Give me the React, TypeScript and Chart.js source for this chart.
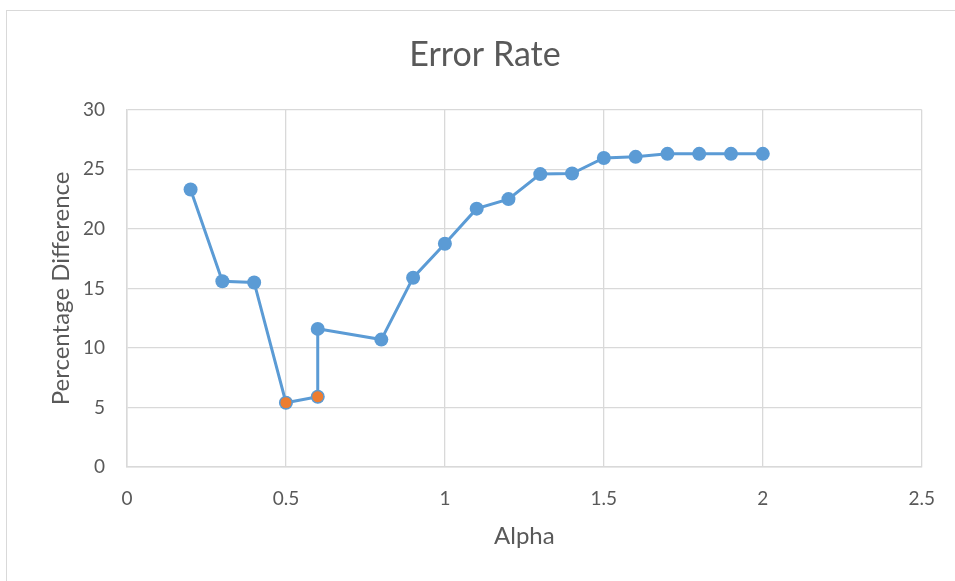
import React, { useEffect, useRef } from "react";
import { Chart, registerables } from "chart.js";

Chart.register(...registerables);

const alphaValues = [0.2, 0.3, 0.4, 0.5, 0.6, 0.6, 0.8, 0.9, 1.0, 1.1, 1.2, 1.3, 1.4, 1.5, 1.6, 1.7, 1.8, 1.9, 2.0];
const errorValues = [23.3, 15.6, 15.5, 5.4, 5.9, 11.6, 10.7, 15.9, 18.75, 21.7, 22.5, 24.6, 24.65, 25.95, 26.05, 26.3, 26.3, 26.3, 26.3];
const highlightAlpha = [0.5, 0.6];
const highlightError = [5.4, 5.9];

const FONT = "Lato, 'Open Sans', sans-serif";
const TEXT = "#595959";
const GRID = "#D9D9D9";

export default function App() {
  const ref = useRef<HTMLCanvasElement | null>(null);

  useEffect(() => {
    if (!ref.current) return;
    const chart = new Chart(ref.current, {
      type: "scatter",
      data: {
        datasets: [
          {
            label: "Highlight",
            data: highlightAlpha.map((x, i) => ({ x, y: highlightError[i] })),
            showLine: false,
            pointRadius: 6,
            pointBackgroundColor: "#ED7D31",
            pointBorderColor: "#5B9BD5",
            pointBorderWidth: 1,
            order: 0,
          },
          {
            label: "Error Rate",
            data: alphaValues.map((x, i) => ({ x, y: errorValues[i] })),
            showLine: true,
            borderColor: "#5B9BD5",
            borderWidth: 3,
            pointRadius: 7,
            pointBackgroundColor: "#5B9BD5",
            pointBorderColor: "#5B9BD5",
            pointBorderWidth: 0,
            order: 1,
          },
        ],
      },
      options: {
        animation: false,
        responsive: false,
        maintainAspectRatio: false,
        layout: { padding: { left: 47, right: 32, top: 0, bottom: 30 } },
        plugins: {
          legend: { display: false },
          tooltip: { enabled: false },
          title: {
            display: true,
            text: "Error Rate",
            color: TEXT,
            font: { family: FONT, size: 34, weight: "normal" },
            padding: { top: 35, bottom: 34 },
          },
        },
        scales: {
          x: {
            type: "linear",
            min: 0,
            max: 2.5,
            afterFit: (s: any) => {
              s.height = 84;
            },
            ticks: {
              stepSize: 0.5,
              color: TEXT,
              font: { family: FONT, size: 19 },
              padding: 20,
              callback: (v: any) => String(Number(v)),
            },
            grid: { color: GRID, lineWidth: 1.3, drawTicks: false },
            border: { color: GRID, width: 1.5 },
            title: {
              display: true,
              text: "Alpha",
              color: TEXT,
              font: { family: FONT, size: 24 },
              padding: { top: 0, bottom: 0 },
            },
          },
          y: {
            type: "linear",
            min: 0,
            max: 30,
            afterFit: (s: any) => {
              s.width = 80;
            },
            ticks: {
              stepSize: 5,
              color: TEXT,
              font: { family: FONT, size: 19 },
              padding: 22,
            },
            grid: { color: GRID, lineWidth: 1.3, drawTicks: false },
            border: { color: GRID, width: 1.5 },
            title: {
              display: true,
              text: "Percentage Difference",
              color: TEXT,
              font: { family: FONT, size: 24 },
              padding: { top: 0, bottom: 10 },
            },
          },
        },
      },
    });
    return () => chart.destroy();
  }, []);

  return (
    <div style={{ position: "fixed", left: 0, top: 0, width: 955, height: 581, background: "#fff", overflow: "hidden" }}>
      <div
        style={{
          position: "absolute",
          left: 6,
          top: 10,
          width: 960,
          height: 600,
          borderTop: "1.5px solid #D9D9D9",
          borderLeft: "1.5px solid #D9D9D9",
        }}
      />
      <canvas ref={ref} width={955} height={581} style={{ position: "absolute", left: 0, top: 0 }} />
    </div>
  );
}
